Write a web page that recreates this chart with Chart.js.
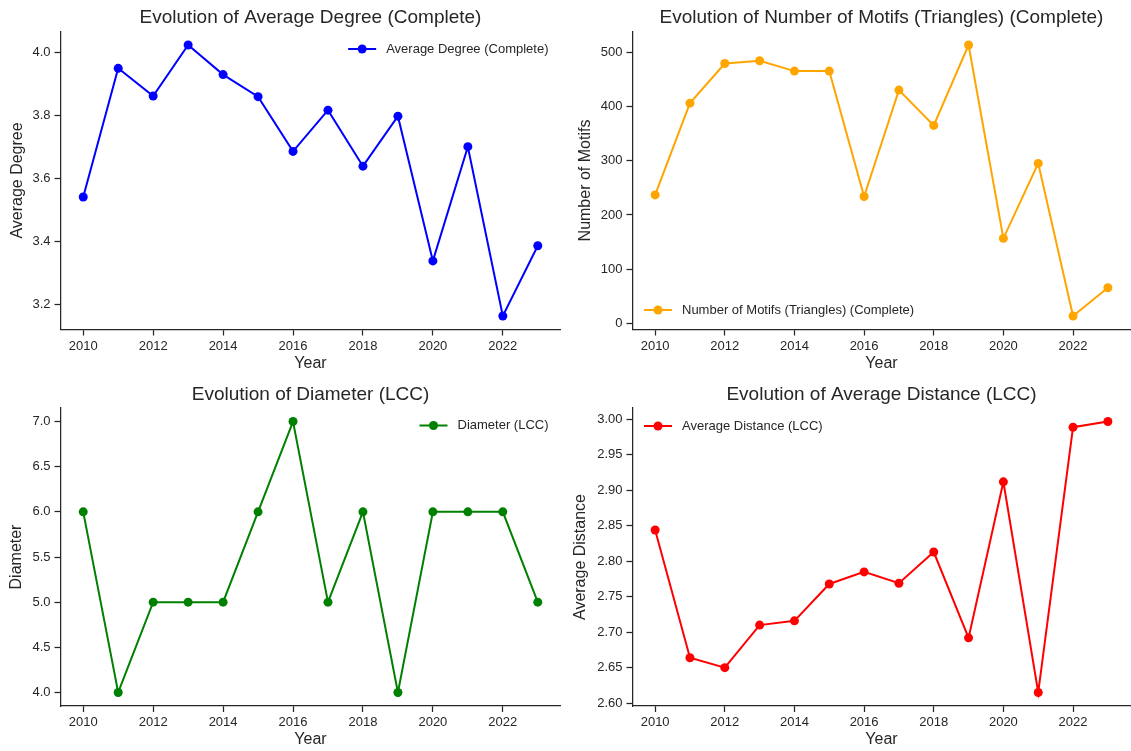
<!DOCTYPE html>
<html>
<head>
<meta charset="utf-8">
<title>Network Evolution</title>
<script src="https://cdn.jsdelivr.net/npm/chart.js@4/dist/chart.umd.min.js"></script>
<style>
  body { margin: 0; background: #fff; }
  #wrap { position: relative; width: 1131px; height: 751px; overflow: hidden; }
  #wrap canvas { position: absolute; }
</style>
</head>
<body>
<div id="wrap">
  <canvas id="chart-degree" width="565" height="375" style="left:0;top:0"></canvas>
  <canvas id="chart-motifs" width="570" height="375" style="left:565px;top:0"></canvas>
  <canvas id="chart-diameter" width="565" height="376" style="left:0;top:375px"></canvas>
  <canvas id="chart-distance" width="570" height="376" style="left:565px;top:375px"></canvas>
</div>
<script>
'use strict';

// ***** DATA *****
const years = [2010, 2011, 2012, 2013, 2014, 2015, 2016, 2017, 2018, 2019, 2020, 2021, 2022, 2023];
const avgDegree = [3.542, 3.951, 3.863, 4.025, 3.931, 3.861, 3.687, 3.818, 3.640, 3.799, 3.339, 3.702, 3.164, 3.387];
const motifCount = [237, 406, 479, 484, 465, 465, 234, 430, 365, 513, 157, 295, 14, 66];
const diameter = [6, 4, 5, 5, 5, 6, 7, 5, 6, 4, 6, 6, 6, 5];
const avgDistance = [2.844, 2.664, 2.650, 2.710, 2.716, 2.768, 2.785, 2.769, 2.813, 2.692, 2.912, 2.615, 2.989, 2.997];

const yearTicks = [2010, 2012, 2014, 2016, 2018, 2020, 2022];
const degreeTicks = [3.2, 3.4, 3.6, 3.8, 4.0];
const motifTicks = [0, 100, 200, 300, 400, 500];
const diameterTicks = [4.0, 4.5, 5.0, 5.5, 6.0, 6.5, 7.0];
const distanceTicks = [2.60, 2.65, 2.70, 2.75, 2.80, 2.85, 2.90, 2.95, 3.00];

// ***** STYLE *****
const fontFamily = '"Liberation Sans", Arial, sans-serif';
const textColor = '#262626';

// **** HELPERS ****

// matplotlib style 5% margin around the data
function paddedRange(values){
  let lo = Math.min(...values);
  let hi = Math.max(...values);
  let pad = (hi - lo) * 0.05;
  return { min: lo - pad, max: hi + pad };
}

// legend drawn inside the plot area like plt.legend()
const cornerLegend = {
  id: 'cornerLegend',
  afterDatasetsDraw(chart, args, opts){
    const ctx = chart.ctx;
    const area = chart.chartArea;
    const ds = chart.data.datasets[0];
    ctx.save();
    ctx.font = '13px ' + fontFamily;
    let textWidth = ctx.measureText(ds.label).width;
    let handleX;
    let y;
    if (opts.corner === 'ne'){
      handleX = area.right - 12 - textWidth - 38;
      y = area.top + 17.5;
    } else if (opts.corner === 'nw'){
      handleX = area.left + 11.5;
      y = area.top + 18;
    } else {
      handleX = area.left + 11.5;
      y = area.bottom - 19.5;
    }
    ctx.strokeStyle = ds.borderColor;
    ctx.lineWidth = 2;
    ctx.beginPath();
    ctx.moveTo(handleX, y);
    ctx.lineTo(handleX + 28, y);
    ctx.stroke();
    ctx.fillStyle = ds.borderColor;
    ctx.beginPath();
    ctx.arc(handleX + 14, y, 4.5, 0, Math.PI * 2);
    ctx.fill();
    ctx.fillStyle = textColor;
    ctx.textBaseline = 'middle';
    ctx.textAlign = 'left';
    ctx.fillText(ds.label, handleX + 38, y);
    ctx.restore();
  }
};

function makeChart(canvasId, setup){
  let xRange = paddedRange(years);
  let yRange = paddedRange(setup.values);

  return new Chart(document.getElementById(canvasId), {
    type: 'line',
    data: {
      datasets: [{
        label: setup.label,
        data: years.map((yr, i) => ({ x: yr, y: setup.values[i] })),
        borderColor: setup.color,
        backgroundColor: setup.color,
        borderWidth: 2,
        pointRadius: 4.5,
        pointHoverRadius: 4.5,
        pointBorderWidth: 0,
        pointBackgroundColor: setup.color,
        tension: 0,
        clip: false
      }]
    },
    options: {
      responsive: false,
      animation: false,
      events: [],
      layout: { padding: { left: 0, right: setup.rightPad, top: 0, bottom: 0 } },
      plugins: {
        legend: { display: false },
        tooltip: { enabled: false },
        title: {
          display: true,
          fullSize: false,
          text: setup.title,
          color: textColor,
          font: { family: fontFamily, size: 19, weight: 'normal' },
          padding: { top: setup.titleTop, bottom: setup.titleBottom }
        },
        cornerLegend: { corner: setup.corner }
      },
      scales: {
        x: {
          type: 'linear',
          min: xRange.min,
          max: xRange.max,
          afterBuildTicks: axis => { axis.ticks = yearTicks.map(v => ({ value: v })); },
          afterFit: axis => { axis.height = setup.xAxisHeight; },
          ticks: {
            color: textColor,
            font: { family: fontFamily, size: 13 },
            padding: 3,
            maxRotation: 0,
            autoSkip: false,
            callback: v => String(v)
          },
          grid: { drawOnChartArea: false, drawTicks: true, tickLength: 6, tickColor: textColor, tickWidth: 1.25 },
          border: { color: textColor, width: 1.25 },
          title: {
            display: true,
            text: 'Year',
            color: textColor,
            font: { family: fontFamily, size: 16 },
            padding: { top: 0, bottom: 2 }
          }
        },
        y: {
          min: yRange.min,
          max: yRange.max,
          afterBuildTicks: axis => { axis.ticks = setup.ticks.map(v => ({ value: v })); },
          afterFit: axis => { axis.width = setup.yAxisWidth; },
          ticks: {
            color: textColor,
            font: { family: fontFamily, size: 13 },
            padding: 4,
            autoSkip: false,
            callback: v => v.toFixed(setup.decimals)
          },
          grid: { drawOnChartArea: false, drawTicks: true, tickLength: 6, tickColor: textColor, tickWidth: 1.25 },
          border: { color: textColor, width: 1.25 },
          title: {
            display: true,
            text: setup.yLabel,
            color: textColor,
            font: { family: fontFamily, size: 16 },
            padding: { top: setup.yTitlePad, bottom: 0 }
          }
        }
      }
    },
    plugins: [cornerLegend]
  });
}

// **** EXECUTABLE CODE *****

makeChart('chart-degree', {
  title: 'Evolution of Average Degree (Complete)',
  label: 'Average Degree (Complete)',
  yLabel: 'Average Degree',
  values: avgDegree,
  ticks: degreeTicks,
  decimals: 1,
  color: '#0000ff',
  corner: 'ne',
  titleTop: 6, titleBottom: 2.7,
  yAxisWidth: 60.5, yTitlePad: 7.7,
  xAxisHeight: 45.5, rightPad: 2
});

makeChart('chart-motifs', {
  title: 'Evolution of Number of Motifs (Triangles) (Complete)',
  label: 'Number of Motifs (Triangles) (Complete)',
  yLabel: 'Number of Motifs',
  values: motifCount,
  ticks: motifTicks,
  decimals: 0,
  color: '#ffa500',
  corner: 'sw',
  titleTop: 6, titleBottom: 2.7,
  yAxisWidth: 67.5, yTitlePad: 11,
  xAxisHeight: 45.5, rightPad: 0
});

makeChart('chart-diameter', {
  title: 'Evolution of Diameter (LCC)',
  label: 'Diameter (LCC)',
  yLabel: 'Diameter',
  values: diameter,
  ticks: diameterTicks,
  decimals: 1,
  color: '#008000',
  corner: 'ne',
  titleTop: 8.6, titleBottom: 1.6,
  yAxisWidth: 60.5, yTitlePad: 6.6,
  xAxisHeight: 45, rightPad: 2
});

makeChart('chart-distance', {
  title: 'Evolution of Average Distance (LCC)',
  label: 'Average Distance (LCC)',
  yLabel: 'Average Distance',
  values: avgDistance,
  ticks: distanceTicks,
  decimals: 2,
  color: '#ff0000',
  corner: 'nw',
  titleTop: 8.6, titleBottom: 1.6,
  yAxisWidth: 67.5, yTitlePad: 6.4,
  xAxisHeight: 45, rightPad: 0
});
</script>
</body>
</html>
